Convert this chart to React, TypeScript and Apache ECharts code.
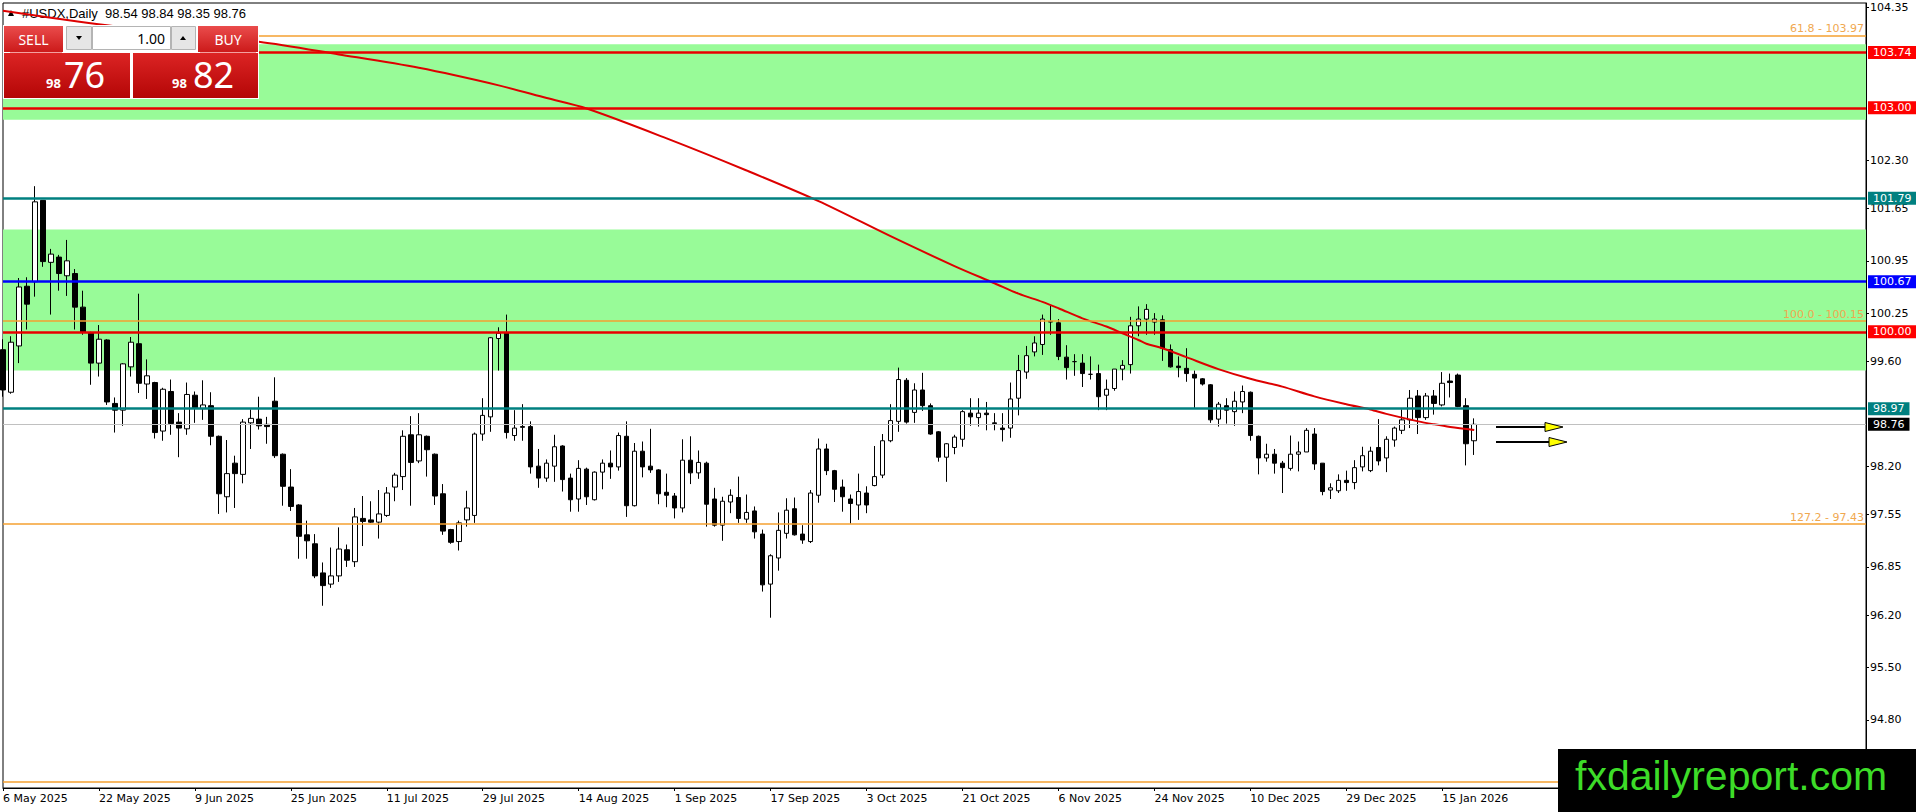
import React, { useEffect, useRef } from "react";
import * as echarts from "echarts";

// ---------------- DATA ----------------
const opens = [
  99.76, 99.19, 99.81, 100.61, 100.67, 101.76, 100.93, 101.0, 100.75, 100.78, 100.33, 99.99, 99.58, 99.89, 99.04, 98.95, 99.53, 99.84, 99.3, 99.32,
  98.67, 99.2, 98.79, 98.7, 99.15, 98.97, 99.01, 98.6, 97.79, 98.24, 98.09, 98.78, 98.83, 98.76, 99.07, 98.36, 97.92, 97.68, 97.28, 97.16,
  96.77, 96.62, 96.73, 97.08, 96.92, 97.5, 97.48, 97.45, 97.54, 97.92, 98.06, 98.62, 98.27, 98.6, 98.36, 97.83, 97.35, 97.19, 97.48, 97.54,
  98.63, 98.86, 99.91, 99.99, 98.61, 98.73, 98.73, 98.2, 98.04, 98.2, 98.47, 98.04, 97.76, 98.16, 97.75, 98.12, 98.24, 98.19, 98.6, 97.67,
  98.4, 98.2, 98.15, 97.85, 97.8, 97.64, 98.28, 98.11, 98.24, 97.76, 97.41, 97.72, 97.78, 97.49, 97.6, 97.29, 96.62, 96.97, 97.3, 97.63,
  97.29, 97.19, 97.81, 98.43, 98.14, 97.92, 97.76, 97.68, 97.84, 97.94, 98.08, 98.54, 98.8, 99.35, 98.92, 99.22, 99.01, 98.66, 98.32, 98.45,
  98.56, 98.91, 98.85, 98.91, 98.78, 98.71, 98.71, 99.11, 99.46, 99.73, 99.83, 100.14, 100.12, 99.66, 99.6, 99.58, 99.43, 99.44, 99.15, 99.24,
  99.5, 99.56, 100.08, 100.17, 100.13, 100.16, 99.76, 99.54, 99.51, 99.43, 99.37, 99.29, 98.83, 99.01, 98.93, 99.06, 99.19, 98.6, 98.31, 98.36,
  98.24, 98.17, 98.36, 98.39, 98.63, 98.24, 97.88, 97.87, 98.01, 97.98, 98.19, 98.14, 98.45, 98.31, 98.55, 98.68, 98.82, 99.14, 98.85, 99.14,
  99.02, 99.34, 99.42, 99.01, 98.54,
];
const highs = [
  99.9, 99.94, 100.72, 100.73, 101.95, 101.76, 101.11, 101.03, 101.23, 100.84, 100.55, 100.0, 100.09, 99.9, 99.12, 99.58, 99.93, 100.51, 99.63, 99.33,
  99.25, 99.36, 98.91, 99.32, 99.2, 99.35, 99.19, 98.61, 98.55, 98.34, 98.83, 98.96, 99.13, 98.86, 99.39, 98.37, 98.16, 97.69, 97.47, 97.29,
  96.91, 97.11, 97.38, 97.15, 97.64, 97.8, 97.73, 97.88, 97.92, 98.11, 98.68, 98.87, 98.91, 98.61, 98.37, 97.96, 97.36, 97.47, 97.87, 98.65,
  99.11, 99.93, 100.06, 100.23, 98.95, 99.03, 98.8, 98.43, 98.29, 98.62, 98.48, 98.1, 98.28, 98.18, 98.13, 98.29, 98.41, 98.65, 98.8, 98.51,
  98.53, 98.7, 98.16, 98.1, 97.84, 98.56, 98.6, 98.41, 98.26, 97.91, 97.79, 97.89, 98.06, 97.82, 97.66, 97.35, 97.02, 97.58, 97.77, 97.78,
  97.41, 97.88, 98.57, 98.5, 98.15, 98.02, 97.82, 98.1, 97.93, 98.47, 98.63, 99.03, 99.52, 99.38, 99.31, 99.45, 99.04, 98.67, 98.51, 98.62,
  98.95, 99.11, 99.11, 99.06, 98.91, 98.91, 99.32, 99.69, 99.81, 99.94, 100.23, 100.35, 100.17, 99.82, 99.7, 99.7, 99.67, 99.56, 99.36, 99.5,
  99.62, 100.2, 100.34, 100.37, 100.25, 100.22, 99.83, 99.67, 99.78, 99.48, 99.38, 99.3, 99.06, 99.11, 99.2, 99.28, 99.2, 98.61, 98.5, 98.43,
  98.27, 98.61, 98.53, 98.71, 98.71, 98.24, 97.97, 98.09, 98.14, 98.28, 98.46, 98.46, 98.83, 98.6, 98.73, 98.96, 99.22, 99.22, 99.18, 99.22,
  99.46, 99.44, 99.44, 99.11, 98.84,
];
const lows = [
  99.13, 99.17, 99.58, 100.03, 100.47, 100.87, 100.23, 100.55, 100.48, 100.03, 99.96, 99.29, 99.4, 99.02, 98.65, 98.74, 99.4, 99.18, 99.1, 98.57,
  98.54, 98.62, 98.32, 98.62, 98.78, 98.82, 98.48, 97.56, 97.58, 97.64, 97.97, 98.43, 98.69, 98.5, 98.31, 97.67, 97.6, 96.96, 96.96, 96.7,
  96.33, 96.57, 96.65, 96.85, 96.85, 97.13, 97.44, 97.23, 97.52, 97.73, 97.88, 97.67, 98.24, 98.06, 97.68, 97.28, 97.16, 97.07, 97.39, 97.44,
  98.54, 98.66, 99.48, 98.57, 98.54, 98.54, 98.1, 97.91, 97.99, 97.99, 97.86, 97.59, 97.59, 97.68, 97.74, 97.89, 98.03, 98.14, 97.52, 97.66,
  98.05, 98.11, 97.69, 97.65, 97.5, 97.58, 97.96, 98.03, 97.39, 97.39, 97.2, 97.57, 97.44, 97.44, 97.23, 96.52, 96.17, 96.8, 97.23, 97.27,
  97.16, 97.17, 97.71, 98.08, 97.72, 97.59, 97.43, 97.48, 97.57, 97.93, 98.04, 98.52, 98.66, 98.77, 98.78, 98.94, 98.62, 98.26, 97.99, 98.36,
  98.46, 98.74, 98.73, 98.68, 98.68, 98.53, 98.58, 98.88, 99.37, 99.67, 99.69, 99.96, 99.62, 99.36, 99.41, 99.26, 99.36, 98.95, 98.95, 99.21,
  99.35, 99.44, 99.94, 99.96, 99.96, 99.61, 99.52, 99.39, 99.33, 98.98, 99.28, 98.78, 98.73, 98.77, 98.74, 98.91, 98.54, 98.09, 98.26, 98.1,
  97.84, 98.14, 98.13, 98.39, 98.15, 97.81, 97.76, 97.84, 97.87, 97.89, 98.13, 98.12, 98.21, 98.12, 98.46, 98.63, 98.71, 98.63, 98.82, 98.89,
  99.0, 99.12, 98.99, 98.21, 98.35,
];
const closes = [
  99.22, 99.86, 100.6, 100.37, 101.74, 100.94, 101.04, 100.78, 100.95, 100.33, 99.99, 99.58, 99.9, 99.06, 98.95, 99.57, 99.86, 99.31, 99.41, 98.65,
  99.23, 98.77, 98.71, 99.16, 98.98, 99.02, 98.6, 97.83, 98.1, 98.1, 98.79, 98.84, 98.74, 98.73, 98.34, 97.93, 97.66, 97.26, 97.2, 96.73,
  96.6, 96.73, 97.09, 96.94, 97.52, 97.46, 97.45, 97.56, 97.84, 98.08, 98.6, 98.25, 98.62, 98.42, 97.8, 97.33, 97.18, 97.44, 97.64, 98.63,
  98.88, 99.92, 99.98, 98.65, 98.71, 98.72, 98.19, 98.04, 98.24, 98.46, 98.02, 97.75, 98.17, 97.79, 98.12, 98.24, 98.19, 98.61, 97.67, 98.4,
  98.19, 98.15, 97.83, 97.81, 97.64, 98.28, 98.11, 98.25, 97.69, 97.41, 97.73, 97.81, 97.5, 97.58, 97.32, 96.61, 97.0, 97.34, 97.61, 97.28,
  97.21, 97.84, 98.43, 98.14, 97.89, 97.79, 97.7, 97.86, 97.68, 98.06, 98.54, 98.81, 99.36, 98.79, 99.22, 99.01, 98.63, 98.32, 98.5, 98.59,
  98.93, 98.86, 98.91, 98.89, 98.77, 98.69, 99.1, 99.48, 99.68, 99.85, 100.17, 100.13, 99.67, 99.52, 99.6, 99.44, 99.43, 99.13, 99.23, 99.5,
  99.55, 100.08, 100.17, 100.3, 100.17, 99.78, 99.53, 99.52, 99.44, 99.38, 99.3, 98.82, 99.03, 98.95, 99.07, 99.2, 98.61, 98.31, 98.36, 98.24,
  98.18, 98.36, 98.39, 98.68, 98.23, 97.86, 97.91, 98.01, 97.98, 98.18, 98.34, 98.4, 98.27, 98.56, 98.71, 98.82, 99.11, 98.85, 99.14, 99.04,
  99.31, 99.32, 99.0, 98.5, 98.76,
];

// moving average: [bar index, value]
const maIndex = [0, 13, 32, 42, 52, 62, 68, 73, 83, 93, 102, 111, 119, 124, 127, 130, 132, 135, 138, 140, 142, 143, 145, 148, 152, 156, 160, 164, 168, 171, 173, 177, 179, 181, 184];
const maValues = [104.3, 104.105, 103.885, 103.715, 103.535, 103.3, 103.13, 102.99, 102.59, 102.16, 101.75, 101.28, 100.88, 100.65, 100.51, 100.4, 100.315, 100.18, 100.07, 99.98, 99.89, 99.84, 99.78, 99.66, 99.5, 99.37, 99.265, 99.135, 99.03, 98.96, 98.9, 98.8, 98.76, 98.725, 98.684];

// horizontal levels
const redLevels = [103.74, 103.0, 100.0];
const tealLevels = [101.79, 98.97];
const blueLevels = [100.67];
const lastPrice = 98.76;
const fibPercents = [61.8, 100.0, 127.2, 161.8];
const fibPrices = [103.97, 100.15, 97.43, 93.97];
const zoneTops = [103.85, 101.37];
const zoneBottoms = [102.84, 99.48];

// axis ticks
const yTickLabels = [104.35, 102.3, 101.65, 100.95, 100.25, 99.6, 98.2, 97.55, 96.85, 96.2, 95.5, 94.8];
const MONTHS = ["Jan", "Feb", "Mar", "Apr", "May", "Jun", "Jul", "Aug", "Sep", "Oct", "Nov", "Dec"];
const HOLIDAYS = ["2025-12-25", "2026-01-01"];
const LABEL_STEP = 12;
const N_SLOTS = 234;

const header = "#USDX,Daily  98.54 98.84 98.35 98.76";

function buildCategories(): string[] {
  const out: string[] = [];
  let t = Date.UTC(2025, 4, 6);
  while (out.length < N_SLOTS) {
    const d = new Date(t);
    const wd = d.getUTCDay();
    const iso = d.toISOString().slice(0, 10);
    if (wd !== 0 && wd !== 6 && !HOLIDAYS.includes(iso)) {
      out.push(`${d.getUTCDate()} ${MONTHS[d.getUTCMonth()]} ${d.getUTCFullYear()}`);
    }
    t += 86400000;
  }
  return out;
}

const RED = "#ff0000";
const RED_LINE = "#e80000";
const TEAL = "#008080";
const BLUE = "#0000ff";
const ORANGE = "#f5a030";
const ORANGE_TXT = "#f0a850";
const AXIS_FONT = "DejaVu Sans";
const TOP_Z = 100;

export default function App() {
  const ref = useRef<HTMLDivElement>(null);

  useEffect(() => {
    if (!ref.current) return;
    const chart = echarts.init(ref.current, undefined, { renderer: "svg" });
    const categories = buildCategories();
    const lastBar = opens.length - 1;
    const showIdx = (i: number) => i % LABEL_STEP === 0 && i <= lastBar;

    const candleData = opens.map((o, i) => [o, closes[i], lows[i], highs[i]]);
    const maData = maIndex.map((x, i) => [x, maValues[i]]);

    const tag = (v: number, color: string, width = 2, lineColor?: string) => ({
      yAxis: v,
      lineStyle: { color: lineColor || color, width, type: "solid" },
      label: {
        show: true,
        position: "end",
        distance: 2,
        formatter: v.toFixed(2),
        color: "#ffffff",
        backgroundColor: color,
        padding: [1, 5, 1, 5],
        fontFamily: AXIS_FONT,
        fontSize: 11,
        lineHeight: 11,
      },
    });

    const fibLines = fibPercents.map((p, i) => ({
      yAxis: fibPrices[i],
      lineStyle: { color: ORANGE, width: 1.5, type: "solid" },
      label: {
        show: i < 3,
        position: "insideEndTop",
        distance: [2, 1],
        formatter: `${p.toFixed(1)} - ${fibPrices[i].toFixed(2)}`,
        color: ORANGE_TXT,
        fontFamily: AXIS_FONT,
        fontSize: 11,
      },
    }));

    const markLines = [
      ...fibLines,
      { ...tag(lastPrice, "#000000", 1, "#c0c0c0") },
      ...redLevels.map((v) => tag(v, RED, 2.5, RED_LINE)),
      ...tealLevels.map((v) => tag(v, TEAL, 2.5)),
      ...blueLevels.map((v) => tag(v, BLUE, 2.5)),
    ];

    const gradBtn = () =>
      new echarts.graphic.LinearGradient(0, 0, 0, 1, [
        { offset: 0, color: "#ea4c4c" },
        { offset: 1, color: "#cc1a1a" },
      ]);
    const gradBox = () =>
      new echarts.graphic.LinearGradient(0, 0, 0, 1, [
        { offset: 0, color: "#dc2424" },
        { offset: 1, color: "#b40606" },
      ]);

    const txt = (x: number, y: number, text: string, size: number, color: string, align = "left", family = "Noto Sans", weight = "normal", z = TOP_Z) => ({
      type: "text",
      x,
      y,
      z,
      style: {
        text,
        fill: color,
        fontSize: size,
        fontFamily: family,
        fontWeight: weight,
        align,
        verticalAlign: "middle",
        textAlign: align,
        textVerticalAlign: "middle",
      },
    });
    const rect = (x: number, y: number, w: number, h: number, style: any) => ({ type: "rect", z: TOP_Z, shape: { x, y, width: w, height: h }, style });
    const poly = (points: number[][], style: any) => ({ type: "polygon", z: TOP_Z, shape: { points }, style });
    const seg = (x1: number, y1: number, x2: number, y2: number, stroke: string, lineWidth: number) => ({ type: "line", z: TOP_Z, shape: { x1, y1, x2, y2 }, style: { stroke, lineWidth } });

    const option: any = {
      animation: false,
      backgroundColor: "#ffffff",
      grid: {
        left: 3,
        right: 50,
        top: 3,
        bottom: 24,
        show: true,
        borderColor: "#000000",
        borderWidth: 1,
        backgroundColor: "transparent",
        containLabel: false,
        outerBoundsMode: "none",
      },
      xAxis: {
        type: "category",
        data: categories,
        boundaryGap: false,
        axisLine: { show: true, lineStyle: { color: "#000", width: 1 } },
        axisTick: { show: true, interval: showIdx, length: 3, lineStyle: { color: "#000" } },
        axisLabel: {
          interval: showIdx,
          align: "left",
          margin: 5,
          color: "#000",
          fontFamily: AXIS_FONT,
          fontSize: 11,
        },
        splitLine: { show: false },
      },
      yAxis: {
        type: "value",
        position: "right",
        min: 93.889,
        max: 104.4036,
        axisLine: { show: true, lineStyle: { color: "#000", width: 1 } },
        axisTick: { show: true, length: 3, customValues: yTickLabels, lineStyle: { color: "#000" } },
        axisLabel: {
          customValues: yTickLabels,
          formatter: (v: number) => Number(v).toFixed(2),
          margin: 4,
          color: "#000",
          fontFamily: AXIS_FONT,
          fontSize: 11,
        },
        splitLine: { show: false },
      },
      series: [
        {
          type: "candlestick",
          name: "USDX",
          data: candleData,
          barWidth: 5,
          z: 2,
          silent: true,
          itemStyle: {
            color: "#ffffff",
            color0: "#000000",
            borderColor: "#000000",
            borderColor0: "#000000",
            borderColorDoji: "#000000",
            borderWidth: 1,
          },
          markArea: {
            silent: true,
            z: 1,
            label: { show: false },
            itemStyle: { color: "#98fb98", opacity: 1 },
            data: zoneTops.map((t, i) => [{ yAxis: t }, { yAxis: zoneBottoms[i] }]),
          },
          markLine: {
            silent: true,
            z: 5,
            symbol: ["none", "none"],
            lineStyle: { type: "solid" },
            data: markLines,
          },
        },
        {
          type: "line",
          name: "MA",
          data: maData,
          showSymbol: false,
          symbol: "none",
          smooth: 0.3,
          z: 4,
          silent: true,
          lineStyle: { color: "#dd0000", width: 2 },
        },
      ],
      graphic: {
        elements: [
          { type: "polygon", z: 0, shape: { points: [[8, 16], [14, 16], [11, 10]] }, style: { fill: "#000" } },
          txt(22, 13, header, 13, "#000", "left", "Liberation Sans", "normal", 0),

          // one-click trading panel
          rect(3, 25, 256, 74, { fill: "#ffffff" }),
          rect(4, 26, 59, 26, { fill: gradBtn() }),
          txt(33.5, 39, "SELL", 14, "#ffffff", "center"),
          rect(66.5, 26.5, 25, 23, { fill: "#e6e6e6", stroke: "#b4b4b4", lineWidth: 1 }),
          poly([[76, 36], [82, 36], [79, 40]], { fill: "#000" }),
          rect(92.5, 26.5, 78, 23, { fill: "#ffffff", stroke: "#b4b4b4", lineWidth: 1 }),
          txt(165, 38, "1.00", 14, "#000000", "right"),
          rect(171.5, 26.5, 24, 23, { fill: "#e6e6e6", stroke: "#b4b4b4", lineWidth: 1 }),
          poly([[180, 40], [186, 40], [183, 36]], { fill: "#000" }),
          rect(198, 26, 60, 26, { fill: gradBtn() }),
          txt(228, 39, "BUY", 14, "#ffffff", "center"),
          rect(4, 53, 126, 45, { fill: gradBox() }),
          rect(133, 53, 125, 45, { fill: gradBox() }),
          seg(10, 52.5, 62, 52.5, "#f3a0a0", 1),
          seg(200, 52.5, 256, 52.5, "#f3a0a0", 1),
          txt(46, 82.5, "98", 13, "#ffffff", "left", "Noto Sans", "bold"),
          txt(64, 74.5, "76", 36, "#ffffff", "left"),
          txt(172, 82.5, "98", 13, "#ffffff", "left", "Noto Sans", "bold"),
          txt(193, 74.5, "82", 36, "#ffffff", "left"),

          // arrows
          seg(1496, 427, 1546, 427, "#000", 2),
          poly([[1545, 422.5], [1545, 431.5], [1563, 427]], { fill: "#ffff00", stroke: "#000", lineWidth: 1 }),
          seg(1496, 442, 1550, 442, "#000", 2),
          poly([[1549, 437.5], [1549, 446.5], [1567, 442]], { fill: "#ffff00", stroke: "#000", lineWidth: 1 }),

          // watermark
          rect(1558, 749, 358, 63, { fill: "#000000" }),
          txt(1575, 776, "fxdailyreport.com", 41, "#3ddc28", "left", "Liberation Sans"),
        ],
      },
    };

    chart.setOption(option);
    return () => chart.dispose();
  }, []);

  return <div ref={ref} style={{ position: "absolute", left: 0, top: 0, width: "1916px", height: "812px" }} />;
}
